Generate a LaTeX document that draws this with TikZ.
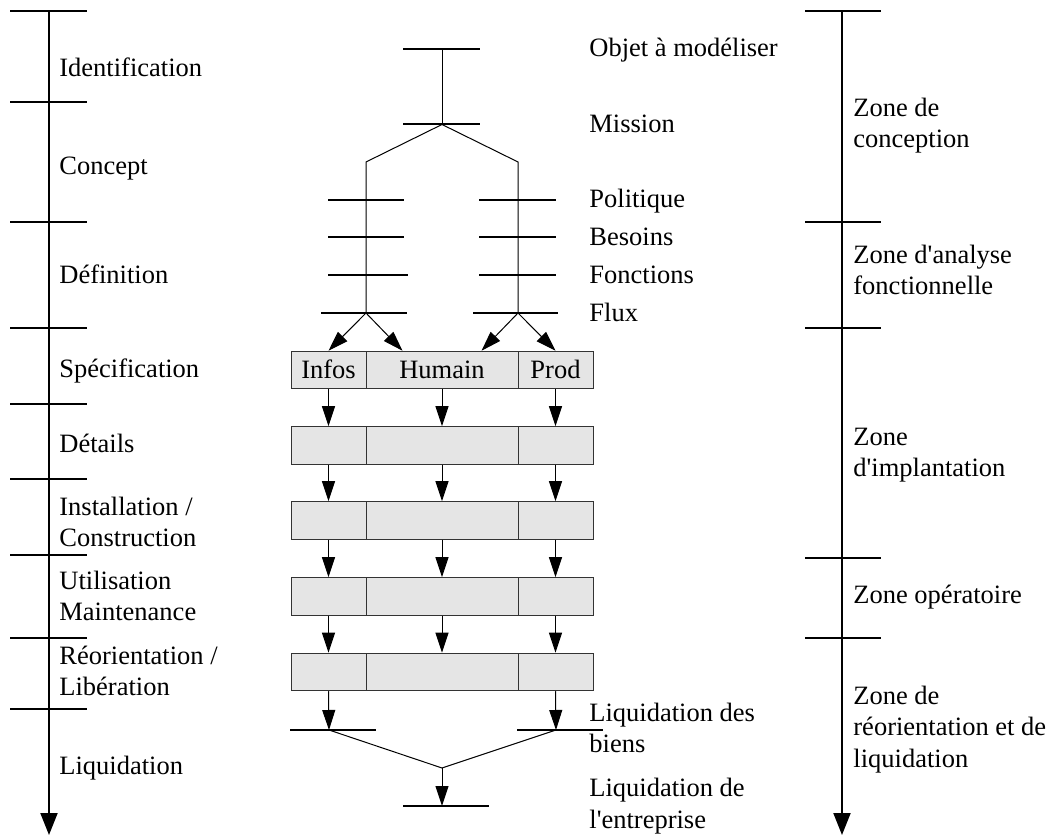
\documentclass[tikz,border=0pt]{standalone}
\usepackage{fontspec}
\setmainfont{Liberation Serif}
\usetikzlibrary{arrows.meta,calc}

\begin{document}
\begin{tikzpicture}[x=0.5pt,y=-0.5pt,
  axis/.style={line width=1pt,-{Triangle[length=11pt,width=8.5pt]}},
  tick/.style={line width=1pt},
  link/.style={line width=0.5pt},
  flow/.style={line width=0.5pt,-{Triangle[length=10pt,width=6.5pt]}},
  cell/.style={draw=black!80,fill=black!10,line width=0.5pt,minimum height=18.75pt,inner sep=0pt,font=\fontsize{13.25}{15.75}\selectfont},
  lbl/.style={anchor=base west,inner sep=0pt,align=left,font=\fontsize{13.25}{15.75}\selectfont},
  celltext/.style={inner sep=0pt,text height=8.8pt,text depth=0pt,font=\fontsize{13.25}{15.75}\selectfont},
]
\useasboundingbox (0,0) rectangle (1049,838);

% ---- left time axis: life-cycle phases (label y = baseline of last line)
\coordinate (Ltop) at (49,11);
\coordinate (Lbot) at (49,835);
\draw[axis] (Ltop) -- (Lbot);
\foreach \y in {11,102,222,328,404,479,555,638,709}
  \draw[tick] (10,\y) -- (87,\y);
\node[lbl] (ph1) at (59,77)  {Identification};
\node[lbl] (ph2) at (59,175) {Concept};
\node[lbl] (ph3) at (59,284) {Définition};
\node[lbl] (ph4) at (59,378) {Spécification};
\node[lbl] (ph5) at (59,453) {Détails};
\node[lbl] (ph6) at (59,547) {Installation /\\Construction};
\node[lbl] (ph7) at (59,621) {Utilisation\\Maintenance};
\node[lbl] (ph8) at (59,696) {Réorientation /\\Libération};
\node[lbl] (ph9) at (59,774) {Liquidation};

% ---- right axis: zones
\coordinate (Rtop) at (842,11);
\coordinate (Rbot) at (842,835);
\draw[axis] (Rtop) -- (Rbot);
\foreach \y in {11,222,328,558,638}
  \draw[tick] (805,\y) -- (881,\y);
\node[lbl] (z1) at (853,148) {Zone de\\conception};
\node[lbl] (z2) at (853,295) {Zone d\textquotesingle analyse\\fonctionnelle};
\node[lbl] (z3) at (853,477) {Zone\\d\textquotesingle implantation};
\node[lbl] (z4) at (853,604) {Zone opératoire};
\node[lbl] (z5) at (853,767) {Zone de\\réorientation et de\\liquidation};

% ---- upper tree
\coordinate (T0) at (442,49);
\coordinate (M)  at (442,124.5);
\coordinate (SL) at (366,162);
\coordinate (SR) at (518,162);
\coordinate (FL) at (366,313);
\coordinate (FR) at (518,313);
\draw[tick] ($(T0)+(-39,0)$) -- ($(T0)+(38,0)$);
\draw[tick] ($(M)+(-39,0)$) -- ($(M)+(38,0)$);
\draw[link] (T0) -- (M);
\draw[link] (M) -- (SL) -- (FL);
\draw[link] (M) -- (SR) -- (FR);
\foreach \y/\a/\b in {200/38/38,237.5/38/38,275.5/38/42}{
  \draw[tick] (366-\a,\y) -- (366+\b,\y);
  \draw[tick] (518-39,\y) -- (518+38,\y);
}
\draw[tick] ($(FL)+(-45,0)$) -- ($(FL)+(41,0)$);
\draw[tick] ($(FR)+(-45,0)$) -- ($(FR)+(40,0)$);

\node[lbl] (obj) at (589,57)  {Objet à modéliser};
\node[lbl] (mis) at (589,133) {Mission};
\node[lbl] (pol) at (589,208) {Politique};
\node[lbl] (bes) at (589,246) {Besoins};
\node[lbl] (fon) at (589,284) {Fonctions};
\node[lbl] (flu) at (589,322) {Flux};

% ---- rows of sub-systems
\foreach \r/\y in {1/370,2/445.5,3/520.5,4/596.5,5/672}{
  \node[cell,minimum width=37.5pt] (r\r i) at (328.5,\y) {};
  \node[cell,minimum width=76pt]   (r\r h) at (442,\y)   {};
  \node[cell,minimum width=37.5pt] (r\r p) at (555.5,\y) {};
}
\node[celltext] (ti) at (r1i) {Infos};
\node[celltext] (th) at (r1h) {Humain};
\node[celltext] (tp) at (r1p) {Prod};

\draw[flow] (FL) -- (r1i.north);
\draw[flow] (FL) -- ($(r1h.north west)+(37,0)$);
\draw[flow] (FR) -- ($(r1h.north east)+(-37,0)$);
\draw[flow] (FR) -- (r1p.north);

\foreach \r [evaluate=\r as \n using int(\r+1)] in {1,2,3,4}{
  \draw[flow] (r\r i.south) -- (r\n i.north);
  \draw[flow] (r\r h.south) -- (r\n h.north);
  \draw[flow] (r\r p.south) -- (r\n p.north);
}

% ---- liquidation
\coordinate (BL) at (329,730);
\coordinate (BR) at (556,730);
\coordinate (BM) at (442,768);
\coordinate (BE) at (442,806);
\draw[flow] (r5i.south) -- (BL);
\draw[flow] (r5p.south) -- (BR);
\draw[tick] ($(BL)+(-39,0)$) -- ($(BL)+(47,0)$);
\draw[tick] ($(BR)+(-39,0)$) -- ($(BR)+(47,0)$);
\draw[link] (BL) -- (BM) -- (BR);
\draw[flow] (BM) -- (BE);
\draw[tick] ($(BE)+(-39,0)$) -- ($(BE)+(47,0)$);

\node[lbl] (lb) at (589,753) {Liquidation des\\biens};
\node[lbl] (le) at (589,828) {Liquidation de\\l\textquotesingle entreprise};
\end{tikzpicture}
\end{document}
